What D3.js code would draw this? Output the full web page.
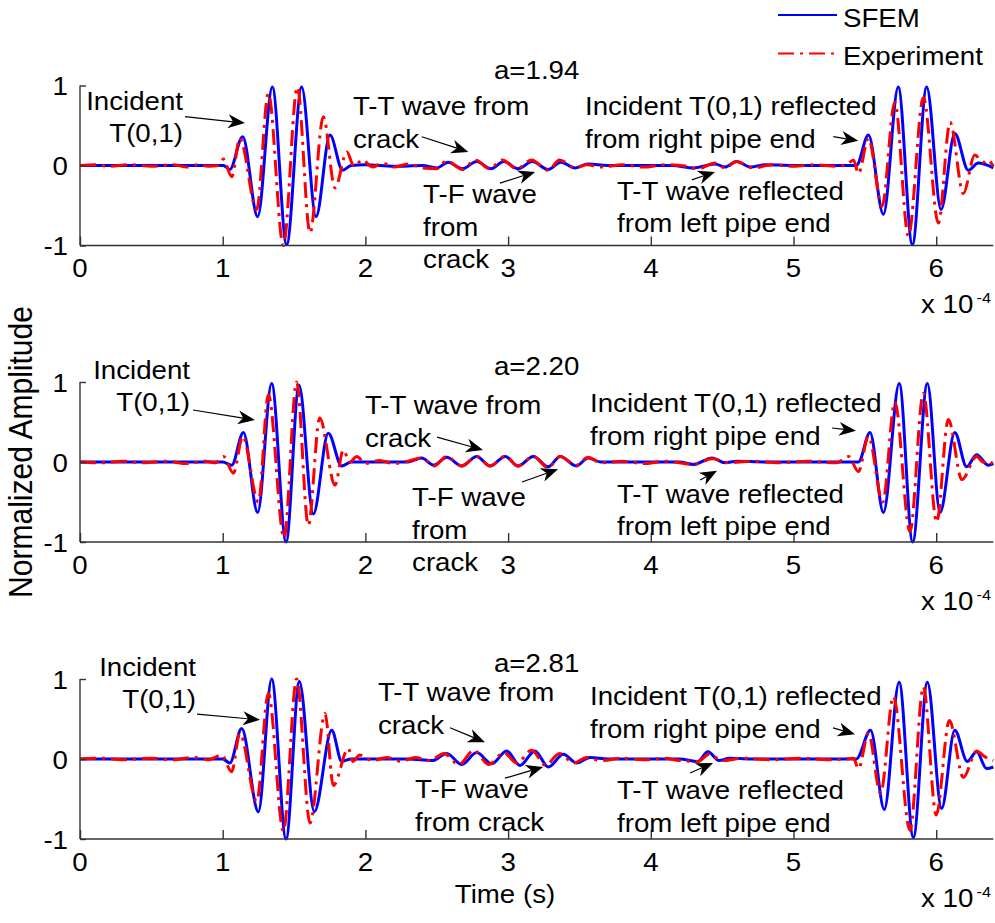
<!DOCTYPE html>
<html>
<head>
<meta charset="utf-8">
<script src="https://cdn.jsdelivr.net/npm/d3@7"></script>
<style>
  body { margin: 0; background: #ffffff; }
  svg { display: block; font-family: Arial, "Liberation Sans", Helvetica, sans-serif; }
</style>
</head>
<body>
<svg id="chart" width="995" height="923"></svg>
<script>
// ---- data (time in units of 1e-4 s, normalized amplitude) ----
const panelTitles = ["a=1.94", "a=2.20", "a=2.81"];
const xTickValues = [0, 1, 2, 3, 4, 5, 6];
const yTickValues = [-1, 0, 1];
const seriesNames = ["SFEM", "Experiment"];

const sfem194 = [
  [0,0],[0.6,0],[0.95,0],[1.005,0],[1.05,-0.05],[1.14,0.36],[1.245,-0.64],[1.348,0.98],[1.448,-0.99],
  [1.553,0.98],[1.654,-0.64],[1.752,0.38],[1.84,-0.06],[1.9,0],[2.0,0.01],[2.2,-0.01],[2.4,0],
  [2.5,-0.03],[2.58,0.04],[2.68,-0.04],[2.78,0.05],[2.88,-0.04],[2.97,0.05],[3.07,-0.04],[3.17,0.05],
  [3.28,-0.05],[3.37,0.04],[3.47,-0.03],[3.56,0.02],[3.7,0],[4.15,0],[4.3,-0.03],[4.45,0.02],
  [4.52,-0.02],[4.6,0.05],[4.7,-0.02],[4.8,0.01],[5.0,0],[5.3,0],[5.44,0],[5.525,0.38],[5.63,-0.61],
  [5.734,0.98],[5.833,-0.99],[5.933,0.98],[6.034,-0.55],[6.13,0.40],[6.225,-0.06],[6.295,0.03],[6.4,-0.03]
];
const exp194 = [
  [0,0],[0.1,0.01],[0.2,-0.01],[0.35,0.01],[0.5,-0.01],[0.65,0.01],[0.75,-0.02],[0.82,0.01],[0.9,-0.01],
  [0.97,0],[1.005,0.08],[1.063,-0.14],[1.12,0.34],[1.238,-0.55],[1.32,0.9],[1.425,-1.0],[1.523,0.98],
  [1.612,-0.84],[1.705,0.61],[1.787,-0.28],[1.87,0.17],[1.92,-0.01],[1.98,0.07],[2.05,-0.02],[2.12,0.03],
  [2.2,-0.02],[2.3,0.02],[2.4,-0.03],[2.5,-0.04],[2.57,0.06],[2.68,-0.05],[2.77,0.07],[2.87,-0.04],
  [2.96,0.07],[3.06,-0.04],[3.165,0.07],[3.28,-0.06],[3.36,0.07],[3.47,-0.03],[3.55,0.01],[3.65,-0.02],
  [3.8,0.01],[3.95,-0.02],[4.1,0.01],[4.25,-0.01],[4.33,-0.04],[4.45,0.03],[4.52,-0.03],[4.6,0.05],
  [4.72,-0.03],[4.85,0.01],[5.0,-0.01],[5.15,0.01],[5.3,-0.01],[5.38,0.02],[5.42,0.07],[5.455,-0.1],
  [5.525,0.34],[5.62,-0.51],[5.71,0.79],[5.805,-0.88],[5.91,0.85],[6.015,-0.72],[6.097,0.54],[6.19,-0.35],
  [6.27,0.13],[6.33,0.04],[6.36,0.07],[6.4,-0.01]
];
const sfem220 = [
  [0,0],[1.0,0],[1.063,-0.04],[1.145,0.37],[1.245,-0.63],[1.343,0.98],[1.444,-1.0],[1.535,0.96],
  [1.635,-0.65],[1.74,0.36],[1.834,-0.05],[1.9,0],[2.1,0],[2.3,0],[2.394,0.05],[2.48,-0.04],[2.57,0.06],
  [2.675,-0.05],[2.78,0.07],[2.874,-0.05],[2.98,0.07],[3.07,-0.05],[3.177,0.07],[3.28,-0.06],[3.365,0.07],
  [3.478,-0.05],[3.56,0.05],[3.65,0],[4.2,0],[4.3,-0.03],[4.43,0.05],[4.52,-0.01],[4.6,0.01],[4.8,0],
  [5.3,0],[5.455,0],[5.536,0.37],[5.63,-0.63],[5.741,0.98],[5.835,-1.0],[5.938,0.98],[6.027,-0.63],
  [6.13,0.37],[6.213,-0.06],[6.283,0.09],[6.365,-0.04],[6.4,-0.02]
];
const exp220 = [
  [0,0],[0.15,-0.01],[0.3,0.01],[0.45,-0.01],[0.6,0.01],[0.75,-0.02],[0.88,0.01],[0.95,-0.01],
  [1.005,0.07],[1.075,-0.14],[1.14,0.32],[1.25,-0.5],[1.32,0.84],[1.43,-0.95],[1.518,1.0],[1.6,-0.79],
  [1.68,0.55],[1.787,-0.29],[1.845,0.15],[1.89,0],[1.94,0.07],[2.0,-0.02],[2.1,0.02],[2.2,-0.02],[2.3,0.01],
  [2.394,0.05],[2.48,-0.05],[2.57,0.07],[2.675,-0.05],[2.78,0.07],[2.874,-0.05],[2.98,0.07],[3.07,-0.05],
  [3.177,0.07],[3.28,-0.07],[3.365,0.07],[3.478,-0.04],[3.56,0.06],[3.65,-0.01],[3.8,0.01],[3.95,-0.02],
  [4.1,0.01],[4.3,-0.03],[4.43,0.04],[4.55,-0.01],[4.7,0.01],[4.9,-0.01],[5.1,0.01],[5.3,-0.01],
  [5.385,0.07],[5.455,-0.12],[5.525,0.32],[5.625,-0.5],[5.71,0.75],[5.816,-0.87],[5.91,0.86],[6.003,-0.75],
  [6.085,0.53],[6.18,-0.22],[6.283,0.07],[6.33,0],[6.365,0.02],[6.4,-0.04]
];
const sfem281 = [
  [0,0],[1.0,0],[1.05,-0.05],[1.133,0.38],[1.25,-0.66],[1.343,1.0],[1.444,-1.0],[1.537,0.97],[1.642,-0.66],
  [1.764,0.36],[1.834,-0.03],[1.9,0],[2.3,0],[2.47,-0.02],[2.57,0.07],[2.675,-0.07],[2.78,0.08],
  [2.885,-0.06],[2.99,0.1],[3.083,-0.08],[3.188,0.1],[3.282,-0.1],[3.387,0.06],[3.48,-0.05],[3.574,0.02],
  [3.7,0],[4.2,0],[4.33,-0.03],[4.4,0.09],[4.48,-0.02],[4.55,0.01],[4.7,0],[5.3,0],[5.44,0],[5.54,0.36],
  [5.636,-0.63],[5.74,0.96],[5.84,-0.98],[5.938,0.96],[6.038,-0.62],[6.13,0.36],[6.218,-0.03],[6.283,0.09],
  [6.353,-0.12],[6.4,-0.1]
];
const exp281 = [
  [0,0],[0.15,0.01],[0.3,-0.01],[0.5,0.01],[0.65,-0.01],[0.8,0.02],[0.9,-0.01],[0.993,0.05],[1.063,-0.16],
  [1.12,0.32],[1.238,-0.53],[1.32,0.82],[1.425,-0.9],[1.518,1.0],[1.612,-0.8],[1.717,0.57],[1.775,-0.33],
  [1.88,0.13],[1.913,-0.03],[1.96,0.05],[2.05,-0.02],[2.15,0.02],[2.25,-0.03],[2.35,0.02],[2.45,-0.02],
  [2.55,0.07],[2.655,-0.07],[2.76,0.11],[2.865,-0.07],[2.97,0.08],[3.06,-0.05],[3.165,0.11],[3.262,-0.08],
  [3.36,0.07],[3.46,-0.05],[3.55,0.02],[3.65,-0.02],[3.8,0.01],[3.95,-0.01],[4.1,0.01],[4.2,-0.02],
  [4.33,-0.03],[4.41,0.06],[4.5,-0.02],[4.65,0.01],[4.85,-0.01],[5.05,0.01],[5.25,-0.01],[5.35,0],
  [5.42,0.01],[5.455,-0.12],[5.525,0.32],[5.61,-0.43],[5.7,0.78],[5.816,-0.89],[5.91,0.9],[6.0,-0.7],
  [6.092,0.48],[6.19,-0.23],[6.283,0.1],[6.34,0.03],[6.4,-0.02]
];
const panelSeries = [[sfem194, exp194], [sfem220, exp220], [sfem281, exp281]];

// annotation texts with anchor [time, amplitude] and arrows [from, to] in the same units
const panelNotes = [
  [
    { lines: ["Incident", "T(0,1)"], at: [0.722, 0.70], anchor: "end", arrow: [[0.736, 0.61], [1.156, 0.53]] },
    { lines: ["T-T wave from", "crack"], at: [1.913, 0.63], anchor: "start", arrow: [[2.395, 0.36], [2.721, 0.17]] },
    { lines: ["T-F wave", "from", "crack"], at: [2.404, -0.47], anchor: "start", arrow: [[2.943, -0.22], [3.189, -0.08]] },
    { lines: ["Incident T(0,1) reflected", "from right pipe end"], at: [3.539, 0.63], anchor: "start", arrow: [[5.279, 0.36], [5.454, 0.31]] },
    { lines: ["T-T wave reflected", "from left pipe end"], at: [3.763, -0.43], anchor: "start", arrow: [[4.287, -0.18], [4.45, -0.08]] }
  ],
  [
    { lines: ["Incident", "T(0,1)"], at: [0.771, 1.04], anchor: "end", arrow: [[0.792, 0.65], [1.226, 0.525]] },
    { lines: ["T-T wave from", "crack"], at: [1.997, 0.6], anchor: "start", arrow: [[2.502, 0.31], [2.824, 0.15]] },
    { lines: ["T-F wave", "from", "crack"], at: [2.327, -0.55], anchor: "start", arrow: [[3.097, -0.25], [3.35, -0.09]] },
    { lines: ["Incident T(0,1) reflected", "from right pipe end"], at: [3.574, 0.625], anchor: "start", arrow: [[5.27, 0.425], [5.438, 0.39]] },
    { lines: ["T-T wave reflected", "from left pipe end"], at: [3.763, -0.51], anchor: "start", arrow: [[4.345, -0.225], [4.464, -0.11]] }
  ],
  [
    { lines: ["Incident", "T(0,1)"], at: [0.813, 1.04], anchor: "end", arrow: [[0.82, 0.56], [1.261, 0.49]] },
    { lines: ["T-T wave from", "crack"], at: [2.088, 0.725], anchor: "start", arrow: [[2.593, 0.39], [2.838, 0.21]] },
    { lines: ["T-F wave", "from crack"], at: [2.348, -0.49], anchor: "start", arrow: [[2.978, -0.24], [3.245, -0.1]] },
    { lines: ["Incident T(0,1) reflected", "from right pipe end"], at: [3.574, 0.675], anchor: "start", arrow: [[5.277, 0.39], [5.431, 0.31]] },
    { lines: ["T-T wave reflected", "from left pipe end"], at: [3.763, -0.5], anchor: "start", arrow: [[4.275, -0.175], [4.436, -0.05]] }
  ]
];

// ---- layout ----
const svg = d3.select("#chart");
const FONT = 25.5;        // px
const SX = 1.085;         // horizontal text stretch
const LINE_GAP = 32.5;    // px between annotation lines
const plotLeft = 80, plotRight = 993.3, plotH = 160;
const panelTops = [85.5, 382, 679];
const colors = ["#0000ff", "#ff0000"];

const x = d3.scaleLinear().domain([0, 6.4]).range([plotLeft, plotRight]);

function putText(parent, px, py, str, anchor, size) {
  return parent.append("text")
    .attr("transform", `translate(${px},${py}) scale(${SX},1)`)
    .attr("text-anchor", anchor)
    .style("font-size", size + "px")
    .attr("fill", "#000")
    .text(str);
}

function drawArrow(parent, x1, y1, x2, y2) {
  const dx = x2 - x1, dy = y2 - y1, len = Math.hypot(dx, dy);
  const ux = dx / len, uy = dy / len, nx = -uy, ny = ux;
  const L = 17, W = 7, notch = 5;
  const bx = x2 - L * ux, by = y2 - L * uy;
  parent.append("line")
    .attr("x1", x1).attr("y1", y1)
    .attr("x2", x2 - (L - notch) * ux).attr("y2", y2 - (L - notch) * uy)
    .attr("stroke", "#000").attr("stroke-width", 1.2);
  parent.append("path")
    .attr("d", `M${x2},${y2}L${bx + W * nx},${by + W * ny}L${x2 - (L - notch) * ux},${y2 - (L - notch) * uy}L${bx - W * nx},${by - W * ny}Z`)
    .attr("fill", "#000");
}

panelTops.forEach((top, i) => {
  const y = d3.scaleLinear().domain([-1, 1]).range([top + plotH, top]);
  const g = svg.append("g");

  // waveforms
  const line = d3.line().x(d => x(d[0])).y(d => y(d[1])).curve(d3.curveMonotoneX);
  panelSeries[i].forEach((series, k) => {
    g.append("path")
      .datum(series)
      .attr("d", line)
      .attr("fill", "none")
      .attr("stroke", colors[k])
      .attr("stroke-width", 3)
      .attr("stroke-linejoin", "round")
      .attr("stroke-dasharray", k === 1 ? "16,6,3,6" : null);
  });

  // axes: bottom and left only, ticks pointing inward
  const xAxis = d3.axisBottom(x).tickValues(xTickValues).tickSize(-9).tickFormat(d3.format("d"));
  const ax = g.append("g").attr("transform", `translate(0,${top + plotH})`).call(xAxis);
  const yAxis = d3.axisLeft(y).tickValues(yTickValues).tickSize(-6).tickFormat(d3.format("d"));
  const ay = g.append("g").attr("transform", `translate(${plotLeft},0)`).call(yAxis);
  [ax, ay].forEach(a => {
    a.select(".domain").attr("stroke", "#333").attr("stroke-width", 1.4);
    a.selectAll(".tick line").attr("stroke", "#333").attr("stroke-width", 1.4);
    a.selectAll(".tick text").remove();
  });
  // plain axis lines without outer end ticks
  ax.select(".domain").attr("d", `M${plotLeft},0H${plotRight}`);
  ay.select(".domain").attr("d", `M0,${top}V${top + plotH}`);

  xTickValues.forEach(v => putText(g, x(v), top + plotH + 31.5, d3.format("d")(v), "middle", FONT));
  yTickValues.forEach(v => putText(g, plotLeft - 12, y(v) + 9.5, v === -1 ? "-1" : String(v), "end", FONT));

  // exponent label
  putText(g, 921, top + plotH + 67.5, "x 10", "start", FONT);
  putText(g, 976.5, top + plotH + 57.5, "-4", "start", 15);

  // title
  putText(g, (plotLeft + plotRight) / 2, top - 7, panelTitles[i], "middle", FONT);

  // annotations
  panelNotes[i].forEach(n => {
    const px = x(n.at[0]), py = y(n.at[1]);
    n.lines.forEach((s, j) => putText(g, px, py + j * LINE_GAP, s, n.anchor, FONT));
    drawArrow(g, x(n.arrow[0][0]), y(n.arrow[0][1]), x(n.arrow[1][0]), y(n.arrow[1][1]));
  });
});

// axis labels
putText(svg, 505, 903, "Time (s)", "middle", FONT);
svg.append("text")
  .attr("transform", `translate(32,452) scale(${SX},1) rotate(-90)`)
  .attr("text-anchor", "middle")
  .style("font-size", "30px")
  .text("Normalized Amplitude");

// legend
const legend = svg.append("g");
const legendY = [15, 53.5];
seriesNames.forEach((name, k) => {
  legend.append("line")
    .attr("x1", 778).attr("x2", 837)
    .attr("y1", legendY[k]).attr("y2", legendY[k])
    .attr("stroke", colors[k]).attr("stroke-width", 2.2)
    .attr("stroke-dasharray", k === 1 ? "16,6,3,6" : null);
  putText(legend, 843, legendY[k] + 11.8, name, "start", FONT);
});
</script>
</body>
</html>
